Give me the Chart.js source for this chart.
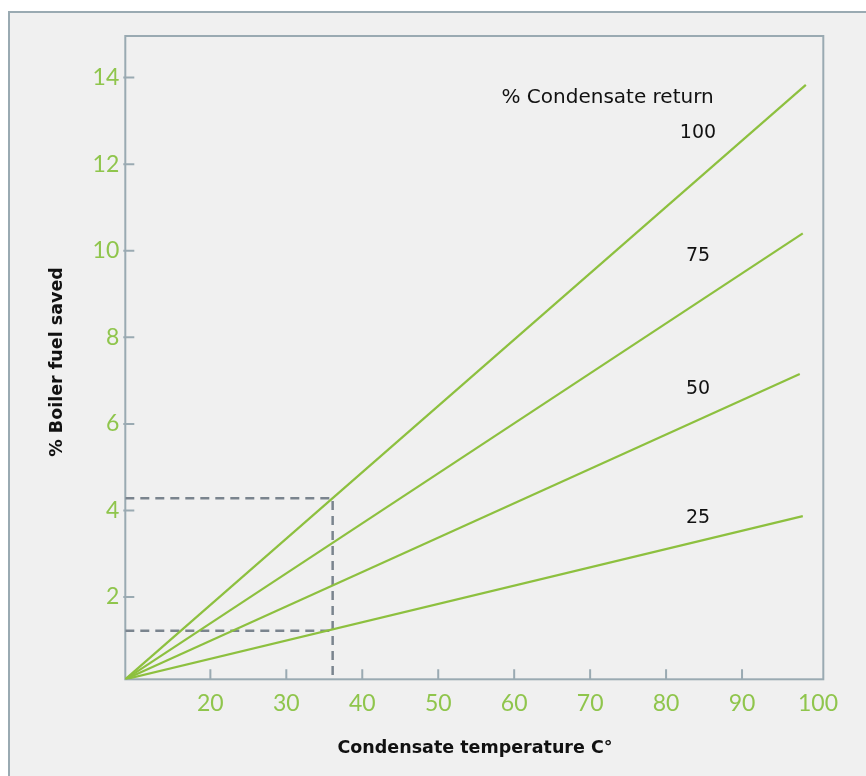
<!DOCTYPE html>
<html>
<head>
<meta charset="utf-8">
<script src="https://cdn.jsdelivr.net/npm/chart.js@4.4.1/dist/chart.umd.min.js"></script>
<style>
  body { margin: 0; background: #ffffff; }
  #wrap { width: 866px; height: 776px; }
</style>
</head>
<body>
<div id="wrap"><canvas id="myChart" width="866" height="776"></canvas></div>
<script>
// data
const returnPct = ['100', '75', '50', '25'];
const startTemp = 8.8;
const startSaved = 0.1;
const endTemp = [98.4, 98.0, 97.6, 98.0];
const endSaved = [13.83, 10.40, 7.15, 3.87];
const xTicks = [20, 30, 40, 50, 60, 70, 80, 90, 100];
const yTicks = [2, 4, 6, 8, 10, 12, 14];
const readTemp = 36.1;
const readHigh = 4.28;
const readLow = 1.22;

const green = '#8dc03f';
const tickGreen = '#8fc54c';
const frame = '#9aaab2';
const dashGray = '#7a848e';
const font = "'DejaVu Sans', sans-serif";
const tickFont = "Lato, 'DejaVu Sans', sans-serif";

var datasets = returnPct.map(function (p, i) {
  return {
    label: p,
    data: [{x: startTemp, y: startSaved}, {x: endTemp[i], y: endSaved[i]}],
    borderColor: green,
    borderWidth: 2.2,
    pointRadius: 0
  };
});
datasets.push({
  label: 'guide',
  data: [{x: startTemp, y: readHigh}, {x: readTemp, y: readHigh}, {x: readTemp, y: startSaved}],
  borderColor: dashGray, borderWidth: 2.5, borderDash: [9, 6], pointRadius: 0
});
datasets.push({
  label: 'guide2',
  data: [{x: startTemp, y: readLow}, {x: readTemp, y: readLow}],
  borderColor: dashGray, borderWidth: 2.5, borderDash: [9, 6], pointRadius: 0
});

// label spots for the series names
const labelSpots = [[84.2, 12.72], [84.2, 9.88], [84.2, 6.81], [84.2, 3.83]];

const decor = {
  id: 'decor',
  beforeDraw(chart) {
    const c = chart.ctx;
    c.save();
    c.fillStyle = '#ffffff';
    c.fillRect(0, 0, chart.width, chart.height);
    c.fillStyle = '#f0f0f0';
    c.fillRect(9, 12, chart.width, chart.height);
    c.strokeStyle = frame;
    c.lineWidth = 2;
    c.beginPath();
    c.moveTo(9, chart.height);
    c.lineTo(9, 12);
    c.lineTo(chart.width, 12);
    c.stroke();
    c.restore();
  },
  beforeDatasetsDraw(chart) {
    const c = chart.ctx, a = chart.chartArea;
    const xs = chart.scales.x, ys = chart.scales.y;
    c.save();
    c.strokeStyle = frame;
    c.lineWidth = 2;
    c.strokeRect(a.left, a.top, a.right - a.left, a.bottom - a.top);
    c.beginPath();
    yTicks.forEach(function (v) {
      const py = ys.getPixelForValue(v);
      c.moveTo(a.left - 2, py);
      c.lineTo(a.left + 9, py);
    });
    xTicks.forEach(function (v) {
      if (v >= 100) return;
      const px = xs.getPixelForValue(v);
      c.moveTo(px, a.bottom);
      c.lineTo(px, a.bottom - 10);
    });
    c.stroke();
    c.restore();
  },
  afterDraw(chart) {
    const c = chart.ctx;
    const xs = chart.scales.x, ys = chart.scales.y;
    c.save();
    c.fillStyle = '#111111';
    c.textAlign = 'center';
    c.textBaseline = 'middle';
    c.font = '20px ' + font;
    c.fillText('% Condensate return', xs.getPixelForValue(72.3), ys.getPixelForValue(13.53));
    c.font = '19px ' + font;
    returnPct.forEach(function (p, i) {
      c.fillText(p, xs.getPixelForValue(labelSpots[i][0]), ys.getPixelForValue(labelSpots[i][1]));
    });
    c.font = 'bold 17.5px ' + font;
    c.fillText('Condensate temperature C°', 475, 748);
    c.translate(57, 362);
    c.rotate(-Math.PI / 2);
    c.fillText('% Boiler fuel saved', 0, 0);
    c.restore();
  }
};

var ctx = document.getElementById('myChart').getContext('2d');
var chart = new Chart(ctx, {
  type: 'line',
  data: { datasets: datasets },
  options: {
    responsive: false,
    animation: false,
    layout: { padding: { left: 0, top: 36, right: 42.7, bottom: 0 } },
    plugins: { legend: { display: false }, tooltip: { enabled: false } },
    scales: {
      x: {
        type: 'linear',
        min: startTemp,
        max: 100.7,
        afterBuildTicks: function (s) { s.ticks = xTicks.map(function (v) { return {value: v}; }); },
        afterFit: function (s) { s.height = 776 - 679.3; },
        grid: { display: false },
        border: { display: false },
        ticks: { color: tickGreen, font: { family: tickFont, size: 23, weight: 'normal' }, padding: 2, maxRotation: 0, autoSkip: false }
      },
      y: {
        type: 'linear',
        min: startSaved,
        max: 14.96,
        afterBuildTicks: function (s) { s.ticks = yTicks.map(function (v) { return {value: v}; }); },
        afterFit: function (s) { s.width = 125.3; },
        grid: { display: false },
        border: { display: false },
        ticks: { color: tickGreen, font: { family: tickFont, size: 23, weight: 'normal' }, padding: -2 }
      }
    }
  },
  plugins: [decor]
});
</script>
</body>
</html>
